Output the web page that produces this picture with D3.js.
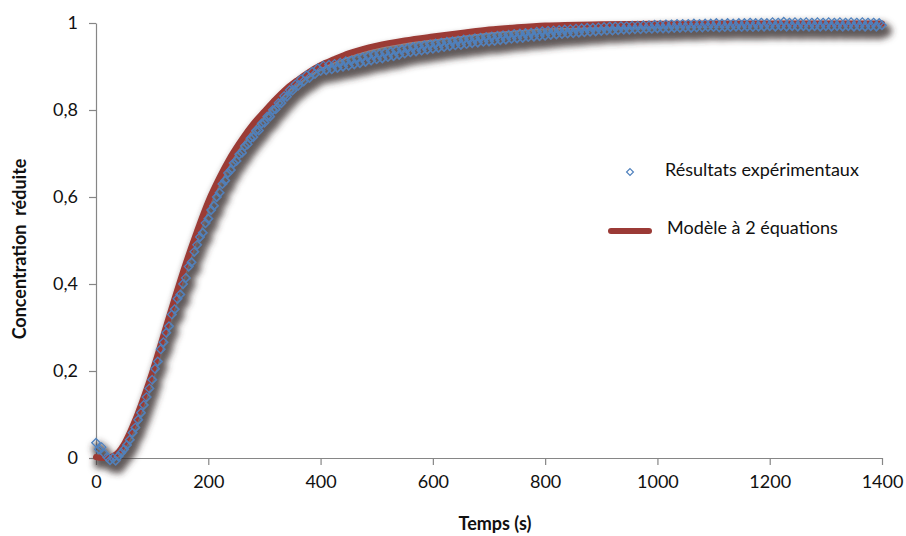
<!DOCTYPE html>
<html><head><meta charset="utf-8">
<script src="https://cdn.jsdelivr.net/npm/d3@7"></script>
<style>
html,body{margin:0;padding:0;background:#fff;}
svg{display:block;font-family:Lato,"Open Sans",sans-serif;}
</style></head>
<body>
<svg id="chart" width="906" height="536"></svg>
<script>
// ---- data ----
const xTicks = [0,200,400,600,800,1000,1200,1400];
const yTicks = [0,0.2,0.4,0.6,0.8,1];
const yTickLabels = ["0","0,2","0,4","0,6","0,8","1"];
const xTitle = "Temps (s)";
const yTitle = "Concentration  réduite";
const legendLabels = ["Résultats expérimentaux","Modèle à 2 équations"];

// experimental results, one point every 5 s from 0 to 1400 s
const expTime = d3.range(0, 1401, 5);
const expValues = [
 0.035,0.02,0.025,0.01,0.002,-0.005,0.0,-0.006,0.004,0.012,
 0.02,0.03,0.042,0.058,0.07,0.088,0.104,0.122,0.14,0.16,
 0.18,0.205,0.222,0.25,0.266,0.288,0.303,0.33,0.342,0.366,
 0.376,0.4,0.414,0.44,0.45,0.474,0.49,0.508,0.518,0.54,
 0.55,0.57,0.58,0.6,0.61,0.63,0.638,0.655,0.662,0.678,
 0.683,0.698,0.702,0.717,0.721,0.735,0.738,0.753,0.753,0.769,
 0.771,0.785,0.785,0.8,0.802,0.816,0.816,0.832,0.831,0.846,
 0.845,0.859,0.856,0.871,0.866,0.88,0.874,0.888,0.883,0.896,
 0.89,0.902,0.892,0.904,0.894,0.906,0.897,0.909,0.9,0.912,
 0.902,0.914,0.905,0.918,0.908,0.921,0.911,0.924,0.914,0.927,
 0.917,0.929,0.919,0.932,0.922,0.934,0.924,0.937,0.927,0.939,
 0.93,0.942,0.933,0.945,0.935,0.947,0.937,0.949,0.939,0.951,
 0.941,0.953,0.943,0.955,0.945,0.957,0.947,0.958,0.949,0.96,
 0.95,0.962,0.952,0.963,0.954,0.965,0.955,0.966,0.957,0.968,
 0.958,0.969,0.959,0.971,0.961,0.972,0.962,0.973,0.964,0.975,
 0.965,0.976,0.966,0.977,0.968,0.978,0.969,0.98,0.97,0.981,
 0.971,0.982,0.973,0.983,0.974,0.984,0.975,0.985,0.976,0.986,
 0.977,0.987,0.978,0.988,0.979,0.989,0.98,0.989,0.981,0.99,
 0.982,0.991,0.983,0.992,0.983,0.992,0.984,0.993,0.985,0.993,
 0.985,0.994,0.986,0.994,0.986,0.995,0.987,0.995,0.987,0.996,
 0.988,0.996,0.988,0.997,0.988,0.997,0.989,0.998,0.989,0.998,
 0.99,0.998,0.989,0.999,0.99,0.998,0.99,0.999,0.991,0.999,
 0.991,1.0,0.99,0.999,0.991,1.0,0.991,0.999,0.992,1.0,
 0.991,1.0,0.992,1.001,0.991,1.0,0.992,1.001,0.992,1.0,
 0.993,1.002,0.992,1.001,0.993,1.003,0.992,1.001,0.993,1.002,
 0.992,1.001,0.993,1.002,0.992,1.001,0.993,1.002,0.992,1.001,
 0.993,1.002,0.992,1.001,0.993,1.002,0.992,1.001,0.993,1.002,
 0.992,1.001,0.993,1.002,0.992,1.001,0.993,1.001,0.992,1.0,
 0.995
];

// model (2 equations)
const modelTime = [0,10,20,30,40,50,60,70,80,90,100,120,140,160,180,200,220,240,260,280,300,320,340,360,380,400,425,450,475,500,550,600,650,700,750,800,900,1000,1100,1200,1300,1400];
const modelValues = [0.002,0,0,0.004,0.014,0.032,0.058,0.088,0.122,0.158,0.197,0.282,0.367,0.448,0.522,0.59,0.645,0.693,0.733,0.768,0.797,0.825,0.85,0.87,0.888,0.903,0.917,0.93,0.94,0.948,0.96,0.969,0.977,0.985,0.99,0.994,0.997,0.998,0.999,0.999,0.999,0.999];

// ---- drawing ----
const svg = d3.select("#chart");
const x = d3.scaleLinear().domain([0,1400]).range([96,882]);
const y = d3.scaleLinear().domain([0,1]).range([458,23]);
const axisColor = "#868686";
const blue = "#4F81BD";
const red = "#9B3A36";

const defs = svg.append("defs");
const f = defs.append("filter").attr("id","shadow")
  .attr("filterUnits","userSpaceOnUse").attr("x",0).attr("y",0).attr("width",906).attr("height",536);
f.append("feMorphology").attr("in","SourceAlpha").attr("operator","dilate").attr("radius",2).attr("result","dil");
f.append("feGaussianBlur").attr("in","dil").attr("stdDeviation",3).attr("result","blur");
f.append("feOffset").attr("in","blur").attr("dx",3).attr("dy",6).attr("result","off");
f.append("feFlood").attr("flood-color","#3a3030").attr("flood-opacity",0.8).attr("result","col");
f.append("feComposite").attr("in","col").attr("in2","off").attr("operator","in").attr("result","shadow");
const fm = f.append("feMerge");
fm.append("feMergeNode").attr("in","shadow");
fm.append("feMergeNode").attr("in","SourceGraphic");

// axes
const xAxis = d3.axisBottom(x).tickValues(xTicks).tickSize(7).tickSizeOuter(0).tickPadding(10).tickFormat(d3.format("d"));
const gx = svg.append("g").attr("transform","translate(0,458)").call(xAxis);
const yAxis = d3.axisLeft(y).tickValues(yTicks).tickSize(7).tickSizeOuter(0).tickPadding(11)
  .tickFormat((d,i)=>yTickLabels[i]);
const gy = svg.append("g").attr("transform","translate(96,0)").call(yAxis);
[gx,gy].forEach(g=>{
  g.select(".domain").attr("stroke",axisColor).attr("stroke-width",1.2);
  g.selectAll(".tick line").attr("stroke",axisColor).attr("stroke-width",1.2);
  g.selectAll(".tick text").attr("fill","#111").style("font-size","18px").style("font-family","Lato, sans-serif");
});

// series
const plot = svg.append("g").attr("filter","url(#shadow)");
const line = d3.line().x(d=>x(d[0])).y(d=>y(d[1])).curve(d3.curveMonotoneX);
const modelData = modelTime.map((t,i)=>[t,modelValues[i]]);
plot.append("path").datum(modelData).attr("d",line)
  .attr("fill","none").attr("stroke",red).attr("stroke-width",6).attr("stroke-linecap","round");

const diamond = d3.symbol().type(d3.symbolDiamond2).size(46);
const expData = expTime.map((t,i)=>[t,expValues[i]]);
plot.append("g").selectAll("path").data(expData).join("path")
  .attr("d",diamond)
  .attr("transform",d=>`translate(${x(d[0])},${y(d[1])})`)
  .attr("fill","none").attr("stroke",blue).attr("stroke-width",1.3);

// legend
const lg = svg.append("g");
lg.append("path").attr("d",d3.symbol().type(d3.symbolDiamond2).size(30)).attr("transform","translate(630,172)")
  .attr("fill","none").attr("stroke",blue).attr("stroke-width",1.2);
lg.append("text").attr("x",665).attr("y",176).text(legendLabels[0]).style("font-size","18px").attr("fill","#111");
lg.append("line").attr("x1",611).attr("x2",649).attr("y1",231).attr("y2",231)
  .attr("stroke",red).attr("stroke-width",6).attr("stroke-linecap","round");
lg.append("text").attr("x",667).attr("y",234).text(legendLabels[1]).style("font-size","18px").attr("fill","#111");

// titles
svg.append("text").attr("x",495).attr("y",530).attr("text-anchor","middle")
  .style("font-size","18px").style("font-weight","bold").attr("fill","#111").text(xTitle);
svg.append("text").attr("transform","translate(26,249) rotate(-90)").attr("text-anchor","middle")
  .style("font-size","18px").style("font-weight","bold").style("white-space","pre").attr("fill","#111").text(yTitle);
</script>
</body></html>
